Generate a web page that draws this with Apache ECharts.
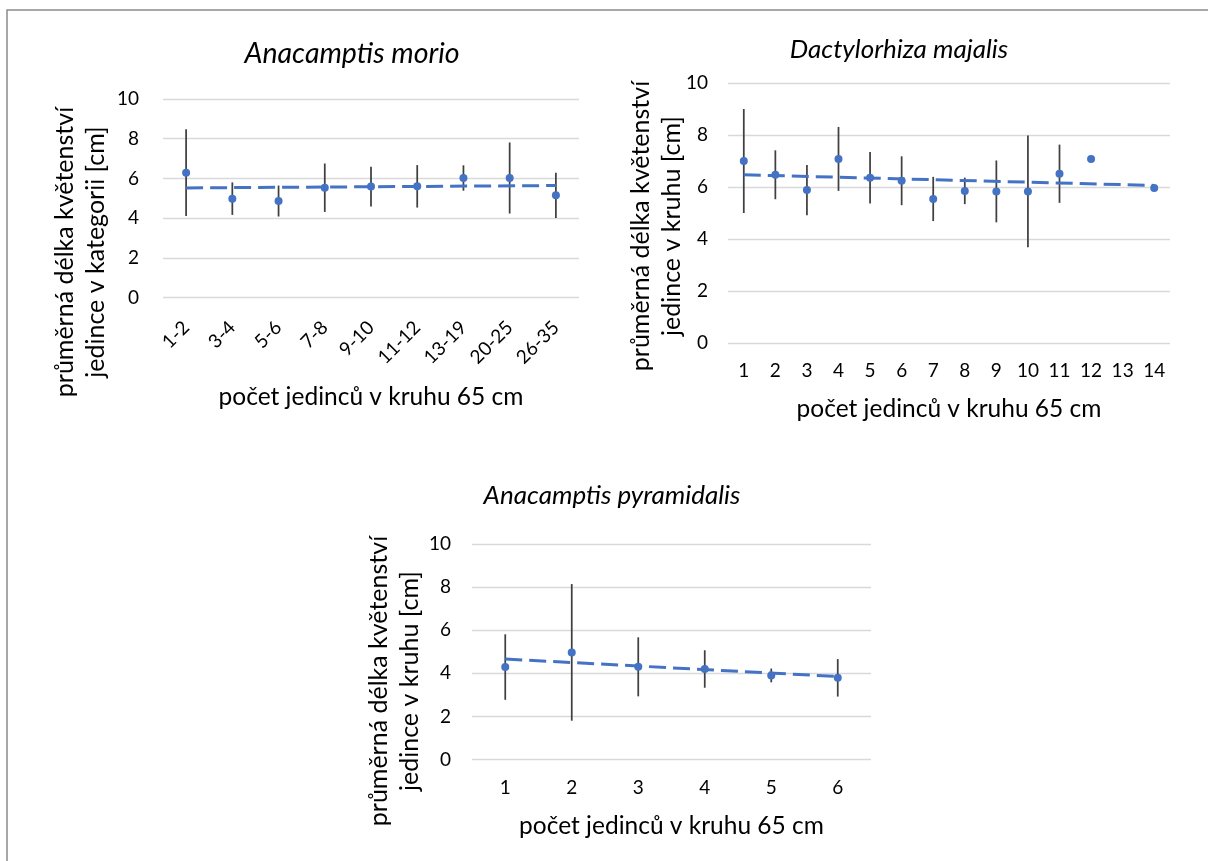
<!DOCTYPE html>
<html>
<head>
<meta charset="utf-8">
<script src="https://cdn.jsdelivr.net/npm/echarts@6/dist/echarts.min.js"></script>
<style>
html, body { margin: 0; padding: 0; background: #fff; }
#main { width: 1208px; height: 861px; }
</style>
</head>
<body>
<div id="main"></div>
<script>
// Anacamptis morio
var morioCats = ['1-2', '3-4', '5-6', '7-8', '9-10', '11-12', '13-19', '20-25', '26-35'];
var morioMean = [6.29, 4.98, 4.86, 5.53, 5.59, 5.60, 6.02, 6.02, 5.15];
var morioErr = [2.19, 0.82, 0.78, 1.22, 1.00, 1.07, 0.64, 1.79, 1.14];
var morioTrend = [5.52, 5.64];

// Dactylorhiza majalis
var majalisCats = ['1', '2', '3', '4', '5', '6', '7', '8', '9', '10', '11', '12', '13', '14'];
var majalisMean = [7.00, 6.47, 5.88, 7.08, 6.36, 6.24, 5.54, 5.85, 5.83, 5.83, 6.51, 7.08, null, 5.96];
var majalisErr = [2.00, 0.94, 0.97, 1.23, 0.99, 0.94, 0.85, 0.51, 1.19, 2.15, 1.12, null, null, null];
var majalisTrend = [6.47, 6.06];

// Anacamptis pyramidalis
var pyrCats = ['1', '2', '3', '4', '5', '6'];
var pyrMean = [4.29, 4.97, 4.30, 4.20, 3.90, 3.79];
var pyrErr = [1.52, 3.17, 1.37, 0.87, 0.32, 0.87];
var pyrTrend = [4.66, 3.85];

var yTicks = [0, 2, 4, 6, 8, 10];

var FONT = 'Lato';
var blue = '#4472C4';

var chart = echarts.init(document.getElementById('main'));

function points(mean) {
	var out = [];
	for (var i = 0; i < mean.length; i++) {
		if (mean[i] != null) out.push([i, mean[i]]);
	}
	return out;
}
function bars(mean, err) {
	var out = [];
	for (var i = 0; i < mean.length; i++) {
		if (mean[i] != null && err[i] != null) out.push([i, mean[i] - err[i], mean[i] + err[i]]);
	}
	return out;
}
function trend(n, ends) {
	var out = [];
	for (var i = 0; i < n; i++) out.push(null);
	out[0] = ends[0];
	out[n - 1] = ends[1];
	return out;
}
function errorBarItem(params, api) {
	var top = api.coord([api.value(0), api.value(2)]);
	var bot = api.coord([api.value(0), api.value(1)]);
	return {
		type: 'line',
		shape: { x1: top[0], y1: top[1], x2: bot[0], y2: bot[1] },
		style: { stroke: '#404040', lineWidth: 1.75 }
	};
}

function xAxis(idx, cats, rotate, margin, gap) {
	return {
		type: 'category', gridIndex: idx, data: cats,
		axisLine: { show: false }, axisTick: { show: false },
		axisLabel: { color: '#000', fontFamily: FONT, fontSize: 19, margin: margin, rotate: rotate, interval: 0 },
		name: 'počet jedinců v kruhu 65 cm', nameLocation: 'middle', nameGap: gap,
		nameTextStyle: { color: '#000', fontFamily: FONT, fontSize: 24.5 }
	};
}
function yAxis(idx, margin) {
	return {
		type: 'value', gridIndex: idx, min: yTicks[0], max: yTicks[yTicks.length - 1], interval: 2,
		axisLine: { show: false }, axisTick: { show: false },
		axisLabel: { color: '#000', fontFamily: FONT, fontSize: 19, margin: margin },
		splitLine: { lineStyle: { color: '#D9D9D9', width: 1.3 } }
	};
}
function group(idx, mean, err, ends) {
	return [
		{ type: 'custom', xAxisIndex: idx, yAxisIndex: idx, renderItem: errorBarItem, data: bars(mean, err), encode: { x: 0, y: [1, 2] }, z: 2, silent: true },
		{ type: 'line', xAxisIndex: idx, yAxisIndex: idx, data: trend(mean.length, ends), connectNulls: true, showSymbol: false, symbol: 'none',
			lineStyle: { color: blue, width: 3, type: [17, 7] }, z: 3, silent: true },
		{ type: 'scatter', xAxisIndex: idx, yAxisIndex: idx, data: points(mean), symbolSize: 8, itemStyle: { color: blue, opacity: 1 }, z: 4 }
	];
}
function yName(x, y, text) {
	return {
		type: 'text', x: x, y: y, rotation: Math.PI / 2,
		style: { text: text, fill: '#000', font: '25px ' + FONT, align: 'center', verticalAlign: 'middle', lineHeight: 31 }
	};
}
function title(x, y, text, size) {
	return {
		type: 'text', x: x, y: y,
		style: { text: text, fill: '#000', font: 'italic ' + size + 'px ' + FONT, align: 'center', verticalAlign: 'middle' }
	};
}

var option = {
	animation: false,
	grid: [
		{ left: 163, top: 99, width: 416, height: 198.5 },
		{ left: 728, top: 83, width: 442, height: 260 },
		{ left: 472, top: 544, width: 399, height: 215.5 }
	],
	xAxis: [
		xAxis(0, morioCats, 45, 27, 87),
		xAxis(1, majalisCats, 0, 18.5, 53.5),
		xAxis(2, pyrCats, 0, 18.5, 54.5)
	],
	yAxis: [yAxis(0, 24), yAxis(1, 20), yAxis(2, 21)],
	graphic: [
		{ type: 'rect', shape: { x: 7, y: 10, width: 1400, height: 1000 }, style: { fill: 'none', stroke: '#8c8c8c', lineWidth: 1.5 }, silent: true },
		title(352, 54, 'Anacamptis morio', 28.5),
		title(899, 50, 'Dactylorhiza majalis', 26),
		title(612, 496, 'Anacamptis pyramidalis', 26),
		yName(80, 252, 'průměrná délka květenství\njedince v kategorii [cm]'),
		yName(656, 226, 'průměrná délka květenství\njedince v kruhu [cm]'),
		yName(394, 681, 'průměrná délka květenství\njedince v kruhu [cm]')
	],
	series: [].concat(
		group(0, morioMean, morioErr, morioTrend),
		group(1, majalisMean, majalisErr, majalisTrend),
		group(2, pyrMean, pyrErr, pyrTrend)
	)
};

chart.setOption(option);
</script>
</body>
</html>
